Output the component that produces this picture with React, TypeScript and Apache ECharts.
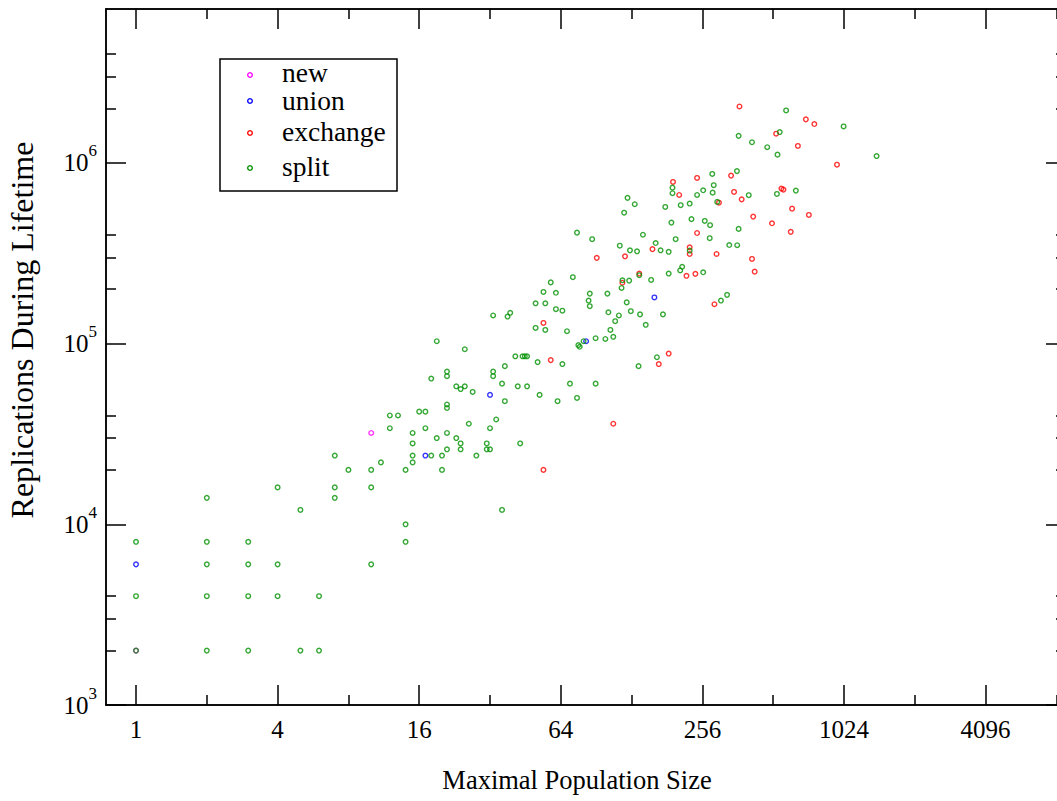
import React, { useEffect, useRef } from "react";
import * as echarts from "echarts";

// ---- data (population size, replications) ----
const newData: number[][] = [[1, 2000], [10, 32000]];
const unionData: number[][] = [[1, 6000], [17, 24000], [32, 52000], [82, 103000], [160, 180000]];
const exchangeData: number[][] = [
  [54, 130000], [58, 81000], [54, 20000], [157, 333000], [91, 298000], [120, 304000], [138, 244000],
  [117, 217000], [184, 88000], [167, 77000], [107, 36000],
  [192, 784000], [243, 825000], [339, 850000], [204, 664000], [349, 690000], [376, 628000], [301, 602000],
  [243, 409000], [226, 341000], [226, 313000], [294, 313000], [219, 237000], [239, 243000], [288, 165000],
  [368, 2050000], [705, 1740000], [766, 1640000], [527, 1450000], [652, 1240000], [956, 977000],
  [555, 720000], [566, 711000], [616, 558000], [726, 515000], [421, 504000], [506, 463000], [608, 415000],
  [416, 294000], [427, 250000],
];
const splitData: number[][] = [
  [1, 2000], [2, 2000], [3, 2000], [5, 2000], [6, 2000],
  [1, 4000], [2, 4000], [3, 4000], [4, 4000], [6, 4000],
  [2, 6000], [3, 6000], [4, 6000],
  [1, 8000], [2, 8000], [3, 8000],
  [5, 12000], [2, 14000], [7, 14000], [4, 16000], [7, 16000],
  [21, 46000], [21, 44000], [12, 40000], [13, 40000], [16, 42000], [17, 42000], [26, 36000],
  [12, 34000], [15, 32000], [17, 34000], [19, 30000], [21, 32000], [23, 30000], [24, 28000], [15, 28000],
  [21, 26000], [24, 26000], [7, 24000], [15, 24000], [18, 24000], [20, 24000], [28, 24000],
  [11, 22000], [15, 22000], [8, 20000], [10, 20000], [14, 20000], [20, 20000],
  [10, 16000], [14, 10000], [14, 8000], [10, 6000],
  [19, 103000], [25, 93000], [21, 70000], [21, 66000], [18, 64000], [23, 58000], [25, 58000], [24, 56000], [27, 54000],
  [72, 233000], [58, 218000], [54, 193000], [61, 191000], [50, 167000], [55, 167000], [61, 155000], [65, 152000],
  [33, 143000], [39, 148000], [38, 141000], [50, 122000], [55, 119000], [68, 117000], [76, 98000], [77, 96000],
  [41, 85000], [44, 85000], [45, 85000], [46, 85000], [51, 79000], [65, 77000], [37, 75000], [33, 70000],
  [33, 66000], [36, 60000], [42, 58000], [46, 58000], [70, 60000], [52, 52000], [37, 48000], [62, 48000],
  [75, 50000], [34, 38000], [32, 34000], [31, 28000], [43, 28000], [31, 26000], [32, 26000], [36, 12000],
  [123, 640000], [132, 590000], [119, 530000], [178, 570000], [75, 411000], [87, 378000], [143, 400000],
  [162, 360000], [114, 348000], [126, 328000], [135, 324000], [170, 328000], [184, 322000],
  [138, 239000], [117, 224000], [125, 223000], [155, 225000], [184, 244000], [116, 203000], [85, 189000],
  [101, 189000], [84, 173000], [85, 161000], [122, 169000], [102, 149000], [113, 143000], [127, 151000],
  [139, 145000], [174, 145000], [109, 133000], [147, 127000], [104, 119000], [107, 109000], [90, 107000],
  [99, 106000], [80, 103000], [164, 84000], [137, 75000], [90, 60000],
  [282, 868000], [359, 900000], [191, 729000], [191, 679000], [286, 752000], [258, 705000], [243, 664000],
  [283, 684000], [403, 662000], [296, 608000], [207, 583000], [226, 595000],
  [189, 467000], [230, 488000], [262, 477000], [276, 452000], [365, 431000], [197, 378000], [275, 383000],
  [226, 327000], [333, 351000], [360, 350000], [210, 266000], [206, 254000], [258, 248000], [326, 186000],
  [307, 173000],
  [581, 1950000], [1020, 1590000], [365, 1410000], [416, 1300000], [546, 1480000], [483, 1220000],
  [534, 1110000], [1409, 1090000], [531, 673000], [639, 702000],
];

const xMajorTicks = [1, 4, 16, 64, 256, 1024, 4096];
const xMinorTicks = [2, 8, 32, 128, 512, 2048, 8192];
const yMajorTicks = [1e3, 1e4, 1e5, 1e6];
const yMinorTicks = [2e3, 3e3, 4e3, 2e4, 3e4, 4e4, 2e5, 3e5, 4e5, 2e6, 3e6, 4e6];

const legendNames = ["new", "union", "exchange", "split"];
const legendColors = ["#ff00ff", "#0000ff", "#ff0000", "#009100"];

const FONT = '"Liberation Serif", "Times New Roman", serif';
const X_MIN = 0.7454, X_MAX = 9000, Y_MIN = 1000, Y_MAX = 7.1e6;

function xAxisDef(position: string, ticks: number[], len: number, labels: boolean) {
  return {
    type: "log", logBase: 2, min: X_MIN, max: X_MAX, position,
    axisLine: { show: true, onZero: false, lineStyle: { color: "#000", width: 1.5 } },
    axisTick: { show: true, inside: true, length: len, customValues: ticks, lineStyle: { color: "#000", width: 1.5 } },
    axisLabel: labels
      ? { show: true, customValues: ticks, formatter: (v: number) => String(Math.round(v)), fontFamily: FONT, fontSize: 25, color: "#000", margin: 12 }
      : { show: false },
    splitLine: { show: false },
  };
}

function yAxisDef(position: string, ticks: number[], len: number, labels: boolean) {
  return {
    type: "log", logBase: 10, min: Y_MIN, max: Y_MAX, position,
    axisLine: { show: true, onZero: false, lineStyle: { color: "#000", width: 1.5 } },
    axisTick: { show: true, inside: true, length: len, customValues: ticks, lineStyle: { color: "#000", width: 1.5 } },
    axisLabel: labels
      ? {
          show: true, customValues: ticks, margin: 9,
          formatter: (v: number) => `{b|10}{s|${Math.round(Math.log10(v))}}`,
          rich: {
            b: { fontFamily: FONT, fontSize: 25, color: "#000" },
            s: { fontFamily: FONT, fontSize: 17, color: "#000", padding: [0, 0, 24, 0] },
          },
        }
      : { show: false },
    splitLine: { show: false },
  };
}

function scatter(name: string, data: number[][], color: string) {
  return {
    type: "scatter", name, data, xAxisIndex: 0, yAxisIndex: 0,
    symbol: "circle", symbolSize: 4.6, silent: true,
    itemStyle: { color: "rgba(0,0,0,0)", borderColor: color, borderWidth: 1.4 },
  };
}

const legendRows = [75, 101, 133, 168];
const legendTextY = [72, 100, 131, 166];

export default function App() {
  const ref = useRef<HTMLDivElement>(null);
  useEffect(() => {
    if (!ref.current) return;
    const chart = echarts.init(ref.current, undefined, { renderer: "svg" });
    const graphic: any[] = [
      {
        type: "rect", shape: { x: 220, y: 59, width: 177, height: 132 },
        style: { fill: "#fff", stroke: "#000", lineWidth: 1.5 }, z: 10,
      },
      {
        type: "text", x: 577, y: 780,
        style: { text: "Maximal Population Size", font: `26.5px ${FONT}`, fill: "#000", align: "center", verticalAlign: "middle" },
      },
      {
        type: "text", x: 22, y: 330, rotation: Math.PI / 2,
        style: { text: "Replications During Lifetime", font: `32px ${FONT}`, fill: "#000", align: "center", verticalAlign: "middle" },
      },
    ];
    legendNames.forEach((n, i) => {
      graphic.push({
        type: "circle", shape: { cx: 250, cy: legendRows[i], r: 2.3 },
        style: { fill: "none", stroke: legendColors[i], lineWidth: 1.4 }, z: 11,
      });
      graphic.push({
        type: "text", x: 282, y: legendTextY[i], z: 11,
        style: { text: n, font: `27.5px ${FONT}`, lineHeight: 22, fill: "#000", align: "left", verticalAlign: "middle" },
      });
    });
    chart.setOption({
      animation: false,
      backgroundColor: "#fff",
      grid: { left: 106, top: 9, width: 960, height: 696, containLabel: false },
      xAxis: [
        xAxisDef("bottom", xMajorTicks, 20, true),
        xAxisDef("bottom", xMinorTicks, 10, false),
        xAxisDef("top", xMajorTicks, 20, false),
        xAxisDef("top", xMinorTicks, 10, false),
      ],
      yAxis: [
        yAxisDef("left", yMajorTicks, 20, true),
        yAxisDef("left", yMinorTicks, 10, false),
        yAxisDef("right", yMajorTicks, 20, false),
        yAxisDef("right", yMinorTicks, 10, false),
      ],
      series: [
        scatter("new", newData, legendColors[0]),
        scatter("union", unionData, legendColors[1]),
        scatter("exchange", exchangeData, legendColors[2]),
        scatter("split", splitData, legendColors[3]),
      ],
      graphic,
    });
    return () => chart.dispose();
  }, []);
  return (
    <div style={{ position: "fixed", left: 0, top: 0, width: 1057, height: 801, overflow: "hidden", background: "#fff" }}>
      <div ref={ref} style={{ width: 1080, height: 801 }} />
    </div>
  );
}
